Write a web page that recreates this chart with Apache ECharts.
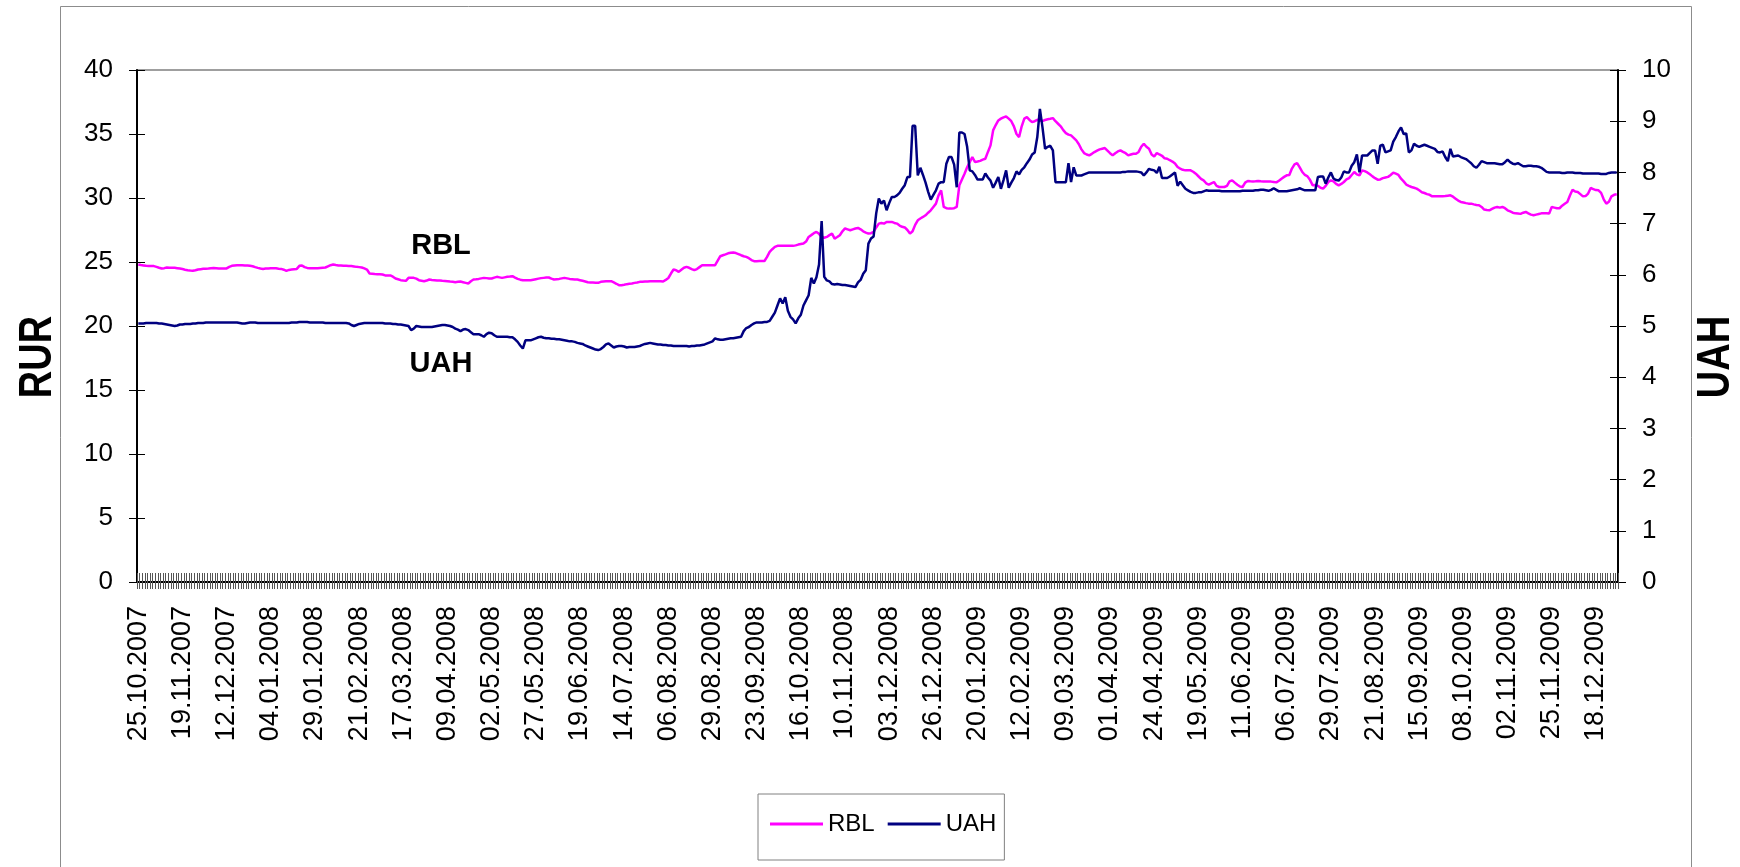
<!DOCTYPE html>
<html>
<head>
<meta charset="utf-8">
<script src="https://cdn.jsdelivr.net/npm/echarts@6/dist/echarts.min.js"></script>
<style>
  html, body { margin: 0; padding: 0; background: #fff; }
  #chart { width: 1740px; height: 867px; }
</style>
</head>
<body>
<div id="chart"></div>
<script>
// trading days (weekdays) from 25.10.2007, one category each
const firstDay = [2007, 10, 25]
const dayCount = 570
const labelStep = 17

const rurTicks = { min: 0, max: 40, interval: 5 }
const uahTicks = { min: 0, max: 10, interval: 1 }

// RBL, left axis (RUR)
const rblValues = [
  24.80,24.76,24.73,24.70,24.69,24.68,24.68,24.62,24.55,24.49,
  24.52,24.57,24.56,24.55,24.55,24.52,24.49,24.45,24.40,24.36,
  24.33,24.31,24.35,24.41,24.44,24.47,24.48,24.49,24.52,24.54,
  24.52,24.50,24.50,24.50,24.50,24.62,24.70,24.73,24.75,24.75,
  24.74,24.73,24.73,24.70,24.67,24.60,24.54,24.49,24.46,24.49,
  24.50,24.51,24.51,24.51,24.48,24.46,24.40,24.31,24.38,24.41,
  24.44,24.46,24.70,24.73,24.60,24.54,24.52,24.51,24.51,24.51,
  24.53,24.55,24.57,24.66,24.75,24.80,24.76,24.73,24.72,24.70,
  24.70,24.69,24.68,24.65,24.62,24.60,24.57,24.50,24.41,24.10,
  24.08,24.06,24.05,24.04,24.02,23.95,23.95,23.95,23.85,23.71,
  23.65,23.58,23.55,23.53,23.76,23.76,23.76,23.70,23.58,23.54,
  23.50,23.55,23.63,23.60,23.58,23.56,23.55,23.53,23.52,23.50,
  23.47,23.45,23.42,23.45,23.47,23.42,23.37,23.32,23.50,23.63,
  23.65,23.68,23.72,23.76,23.74,23.72,23.71,23.78,23.84,23.80,
  23.76,23.80,23.84,23.86,23.89,23.78,23.68,23.62,23.58,23.58,
  23.58,23.58,23.62,23.66,23.70,23.74,23.76,23.78,23.79,23.70,
  23.63,23.66,23.68,23.72,23.76,23.72,23.68,23.66,23.64,23.63,
  23.58,23.53,23.48,23.42,23.40,23.39,23.38,23.37,23.45,23.47,
  23.49,23.50,23.50,23.40,23.30,23.19,23.19,23.22,23.27,23.30,
  23.32,23.37,23.40,23.45,23.45,23.47,23.48,23.49,23.50,23.50,
  23.50,23.50,23.48,23.60,23.75,24.10,24.41,24.36,24.23,24.40,
  24.55,24.62,24.55,24.45,24.36,24.45,24.60,24.75,24.75,24.75,
  24.75,24.75,24.75,25.10,25.45,25.53,25.60,25.68,25.72,25.74,
  25.70,25.62,25.53,25.45,25.40,25.30,25.15,25.06,25.06,25.07,
  25.08,25.08,25.40,25.79,26.00,26.18,26.26,26.26,26.26,26.26,
  26.26,26.26,26.26,26.30,26.36,26.40,26.44,26.60,26.96,27.10,
  27.25,27.35,27.20,26.96,26.90,26.96,27.10,27.22,26.83,26.95,
  27.09,27.40,27.62,27.55,27.48,27.55,27.62,27.66,27.55,27.40,
  27.30,27.22,27.25,27.35,27.70,28.00,28.05,28.00,28.13,28.13,
  28.13,28.05,28.00,27.85,27.75,27.70,27.50,27.22,27.40,27.90,
  28.26,28.40,28.52,28.65,28.85,29.04,29.30,29.56,30.20,30.60,
  29.30,29.20,29.17,29.17,29.20,29.30,30.99,31.45,31.90,32.40,
  32.80,33.20,32.81,32.85,32.90,33.00,33.07,33.60,34.11,35.28,
  35.70,36.06,36.20,36.30,36.37,36.20,36.00,35.60,35.00,34.76,
  35.60,36.20,36.32,36.10,35.93,36.00,36.11,36.05,36.00,36.10,
  36.15,36.19,36.24,36.00,35.80,35.60,35.30,35.07,34.95,34.89,
  34.70,34.50,34.20,33.80,33.51,33.40,33.33,33.45,33.59,33.70,
  33.80,33.85,33.90,33.70,33.50,33.33,33.50,33.64,33.72,33.60,
  33.50,33.33,33.40,33.46,33.46,33.60,34.00,34.24,34.00,33.85,
  33.40,33.25,33.51,33.40,33.30,33.10,33.07,32.95,32.85,32.70,
  32.42,32.30,32.20,32.16,32.16,32.16,32.05,31.90,31.70,31.50,
  31.38,31.15,31.04,31.15,31.25,30.95,30.86,30.86,30.86,30.95,
  31.30,31.38,31.20,31.04,30.90,30.86,31.20,31.33,31.30,31.28,
  31.30,31.33,31.30,31.28,31.28,31.28,31.28,31.25,31.22,31.35,
  31.51,31.65,31.77,31.80,32.30,32.63,32.73,32.40,32.03,31.80,
  31.69,31.40,30.99,31.02,30.95,30.80,30.73,30.95,31.25,31.38,
  31.30,31.10,30.99,31.10,31.25,31.45,31.55,31.80,32.03,31.85,
  31.77,32.16,32.10,32.00,31.85,31.69,31.55,31.43,31.45,31.55,
  31.60,31.65,31.80,31.98,31.90,31.80,31.51,31.30,31.05,30.95,
  30.86,30.80,30.73,30.60,30.45,30.39,30.30,30.25,30.13,30.13,
  30.13,30.13,30.13,30.15,30.18,30.21,30.10,29.95,29.80,29.69,
  29.65,29.60,29.56,29.56,29.50,29.45,29.43,29.30,29.10,29.06,
  29.04,29.15,29.25,29.30,29.25,29.30,29.20,29.04,28.95,28.85,
  28.80,28.78,28.76,28.85,28.91,28.80,28.70,28.65,28.70,28.75,
  28.80,28.80,28.80,28.78,29.30,29.25,29.20,29.20,29.40,29.55,
  29.69,30.20,30.65,30.50,30.47,30.30,30.13,30.15,30.35,30.78,
  30.70,30.62,30.60,30.40,29.90,29.56,29.70,30.13,30.25,30.29
]

// UAH, right axis
const uahValues = [
  5.05,5.05,5.05,5.06,5.06,5.06,5.06,5.06,5.05,5.05,
  5.04,5.03,5.02,5.01,5.00,5.01,5.03,5.03,5.04,5.04,
  5.04,5.05,5.05,5.06,5.06,5.06,5.07,5.07,5.07,5.07,
  5.07,5.07,5.07,5.07,5.07,5.07,5.07,5.07,5.07,5.06,
  5.05,5.05,5.06,5.07,5.07,5.07,5.06,5.06,5.06,5.06,
  5.06,5.06,5.06,5.06,5.06,5.06,5.06,5.06,5.06,5.07,
  5.07,5.07,5.08,5.08,5.08,5.08,5.07,5.07,5.07,5.07,
  5.07,5.07,5.06,5.06,5.06,5.06,5.06,5.06,5.06,5.06,
  5.06,5.05,5.02,5.00,5.02,5.04,5.05,5.06,5.06,5.06,
  5.06,5.06,5.06,5.06,5.06,5.05,5.05,5.05,5.04,5.04,
  5.03,5.03,5.02,5.01,5.00,4.92,4.95,5.00,4.99,4.98,
  4.98,4.98,4.98,4.98,4.99,5.00,5.01,5.02,5.02,5.01,
  5.00,4.98,4.95,4.93,4.90,4.93,4.94,4.92,4.88,4.84,
  4.84,4.84,4.82,4.79,4.84,4.87,4.86,4.82,4.79,4.79,
  4.79,4.79,4.79,4.78,4.78,4.74,4.69,4.62,4.56,4.72,
  4.72,4.72,4.74,4.76,4.78,4.79,4.77,4.76,4.76,4.75,
  4.75,4.74,4.74,4.73,4.72,4.71,4.70,4.70,4.69,4.67,
  4.66,4.65,4.62,4.60,4.58,4.56,4.54,4.53,4.55,4.59,
  4.64,4.66,4.62,4.58,4.60,4.61,4.61,4.60,4.58,4.59,
  4.59,4.59,4.60,4.61,4.63,4.65,4.66,4.67,4.66,4.65,
  4.64,4.64,4.63,4.63,4.62,4.62,4.61,4.61,4.61,4.61,
  4.61,4.61,4.60,4.61,4.61,4.62,4.62,4.63,4.64,4.66,
  4.68,4.70,4.76,4.74,4.73,4.73,4.74,4.75,4.76,4.76,
  4.77,4.78,4.79,4.90,4.96,4.98,5.02,5.05,5.07,5.07,
  5.07,5.08,5.08,5.10,5.18,5.26,5.40,5.54,5.44,5.56,
  5.30,5.18,5.13,5.05,5.15,5.22,5.40,5.50,5.60,5.94,
  5.83,5.95,6.20,7.05,5.96,5.89,5.87,5.82,5.81,5.82,
  5.81,5.80,5.80,5.79,5.78,5.77,5.76,5.85,5.90,6.02,
  6.09,6.61,6.71,6.75,7.20,7.49,7.39,7.45,7.26,7.40,
  7.52,7.52,7.55,7.60,7.68,7.75,7.91,7.91,8.91,8.91,
  7.94,8.09,7.95,7.80,7.62,7.47,7.56,7.65,7.78,7.81,
  7.81,8.17,8.30,8.30,8.15,7.71,8.78,8.78,8.75,8.50,
  8.04,8.02,7.95,7.86,7.86,7.86,7.98,7.90,7.84,7.70,
  7.80,7.91,7.68,7.85,8.04,7.70,7.80,7.89,8.02,7.96,
  8.05,8.10,8.18,8.25,8.35,8.39,8.69,9.24,8.88,8.46,
  8.50,8.52,8.43,7.81,7.81,7.81,7.81,7.81,8.18,7.81,
  8.10,7.94,7.94,7.94,7.96,7.98,8.00,8.00,8.00,8.00,
  8.00,8.00,8.00,8.00,8.00,8.00,8.00,8.00,8.00,8.01,
  8.01,8.02,8.02,8.02,8.02,8.01,8.00,7.94,8.00,8.07,
  8.05,8.04,7.99,8.11,7.89,7.89,7.89,7.92,7.96,8.00,
  7.74,7.82,7.75,7.68,7.65,7.62,7.60,7.60,7.61,7.61,
  7.63,7.65,7.64,7.64,7.64,7.64,7.64,7.63,7.63,7.63,
  7.63,7.63,7.63,7.63,7.63,7.64,7.64,7.64,7.64,7.64,
  7.65,7.65,7.66,7.66,7.65,7.64,7.66,7.69,7.66,7.63,
  7.63,7.63,7.63,7.64,7.65,7.66,7.67,7.69,7.67,7.65,
  7.65,7.65,7.65,7.65,7.91,7.92,7.92,7.78,7.90,8.00,
  7.88,7.85,7.84,7.90,8.02,8.00,8.00,8.13,8.20,8.35,
  8.00,8.33,8.33,8.33,8.38,8.43,8.43,8.17,8.52,8.54,
  8.39,8.41,8.43,8.60,8.69,8.80,8.88,8.75,8.76,8.39,
  8.43,8.56,8.52,8.50,8.52,8.54,8.52,8.50,8.48,8.46,
  8.40,8.39,8.41,8.30,8.22,8.46,8.31,8.32,8.33,8.30,
  8.28,8.26,8.22,8.18,8.12,8.09,8.15,8.22,8.20,8.18,
  8.18,8.18,8.18,8.17,8.16,8.16,8.20,8.25,8.20,8.17,
  8.16,8.18,8.15,8.12,8.12,8.13,8.13,8.12,8.12,8.11,
  8.09,8.05,8.01,8.00,8.00,8.00,8.00,8.00,7.99,7.99,
  8.00,8.00,8.00,7.99,7.99,7.99,7.98,7.98,7.98,7.98,
  7.98,7.98,7.98,7.97,7.97,7.97,7.99,8.00,8.00,8.00
]

const pad = n => (n < 10 ? '0' : '') + n
const categories = []
let day = new Date(Date.UTC(firstDay[0], firstDay[1] - 1, firstDay[2]))
while (categories.length < dayCount) {
  const wd = day.getUTCDay()
  if (wd !== 0 && wd !== 6) {
    categories.push(pad(day.getUTCDate()) + '.' + pad(day.getUTCMonth() + 1) + '.' + day.getUTCFullYear())
  }
  day = new Date(day.getTime() + 86400000)
}

const font = '"Liberation Sans", Arial, sans-serif'
const chart = echarts.init(document.getElementById('chart'))

const valueAxis = (ticks, pos, inner) => ({
  type: 'value',
  position: pos,
  min: ticks.min,
  max: ticks.max,
  interval: ticks.interval,
  axisLine: { show: !inner, lineStyle: { color: '#000', width: 2 } },
  axisTick: { show: true, inside: inner, length: 8, lineStyle: { color: '#000', width: 1 } },
  axisLabel: inner ? { show: false } : { margin: 24, fontSize: 26, fontFamily: font, color: '#000' },
  splitLine: { show: false }
})

const catAxis = inner => ({
  type: 'category',
  position: 'bottom',
  data: categories,
  boundaryGap: true,
  axisLine: { show: !inner, lineStyle: { color: '#000', width: 2 } },
  axisTick: { show: true, interval: 0, inside: inner, length: inner ? 9 : 7, lineStyle: { color: '#555', width: 1 } },
  axisLabel: inner ? { show: false } : {
    interval: labelStep - 1, rotate: 90, margin: 24,
    fontSize: 27, fontFamily: font, color: '#000'
  },
  splitLine: { show: false }
})

// rotated titles are drawn a bit wider than plain Arial, hence the stretch
const txt = (text, x, y, size, rot, stretch) => ({
  type: 'text', x: x, y: y, rotation: rot || 0, scaleY: stretch || 1, z: 10,
  style: {
    text: text, x: 0, y: 0, fontSize: size, fontWeight: 'bold', fontFamily: font, fill: '#000',
    align: 'center', verticalAlign: 'middle', textAlign: 'center', textVerticalAlign: 'middle'
  }
})

chart.setOption({
  animation: false,
  backgroundColor: '#fff',
  grid: { left: 137, right: 122, top: 70, bottom: 285, show: true, borderColor: '#808080', borderWidth: 1.5, containLabel: false },
  xAxis: [catAxis(false), catAxis(true)],
  yAxis: [
    valueAxis(rurTicks, 'left', false),
    valueAxis(rurTicks, 'left', true),
    valueAxis(uahTicks, 'right', false),
    valueAxis(uahTicks, 'right', true)
  ],
  legend: {
    left: 758, top: 794,
    data: ['RBL', 'UAH'],
    icon: 'rect', itemWidth: 53, itemHeight: 3, itemGap: 13,
    padding: [18, 8, 24, 12],
    borderColor: '#808080', borderWidth: 1,
    textStyle: { fontSize: 24, fontFamily: font, color: '#000' }
  },
  graphic: [
    { type: 'rect', z: -1, shape: { x: 60.5, y: 6.5, width: 1631, height: 900 }, style: { fill: 'none', stroke: '#8c8c8c', lineWidth: 1 } },
    txt('RUR', 38, 357, 38, Math.PI / 2, 1.2),
    txt('UAH', 1716, 357, 38, Math.PI / 2, 1.2),
    txt('RBL', 441, 246, 29),
    txt('UAH', 441, 364, 29)
  ],
  series: [
    {
      name: 'RBL', type: 'line', data: rblValues, xAxisIndex: 0, yAxisIndex: 0,
      symbol: 'none', showSymbol: false,
      lineStyle: { color: '#ff00ff', width: 2.5 }, itemStyle: { color: '#ff00ff' }
    },
    {
      name: 'UAH', type: 'line', data: uahValues, xAxisIndex: 0, yAxisIndex: 2,
      symbol: 'none', showSymbol: false,
      lineStyle: { color: '#000080', width: 2.5 }, itemStyle: { color: '#000080' }
    }
  ]
})
window.addEventListener('resize', () => chart.resize())
</script>
</body>
</html>
